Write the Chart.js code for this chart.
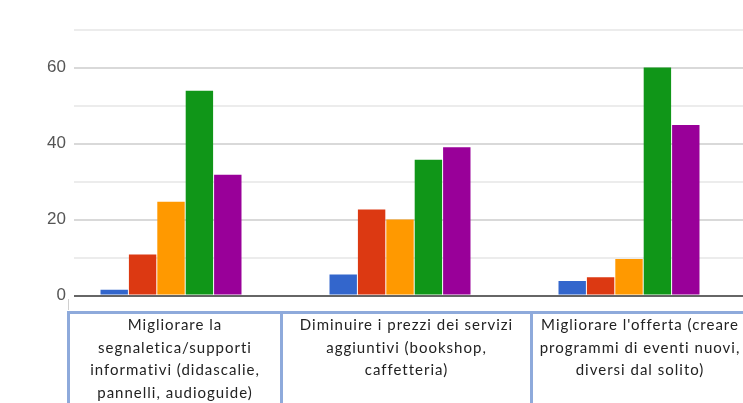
<!DOCTYPE html>
<html>
<head>
<meta charset="utf-8">
<script src="https://cdn.jsdelivr.net/npm/chart.js@4/dist/chart.umd.min.js"></script>
<style>
  html, body { margin: 0; padding: 0; background: #fff; }
  #wrap { position: relative; width: 743px; height: 403px; overflow: hidden; background: #fff; }
  #c { position: absolute; left: 0; top: 0; }
  .rule { position: absolute; background: #8eaadb; }
  .cell {
    position: absolute; top: 313px; text-align: center;
    font-family: Lato, "Open Sans", sans-serif; font-size: 15px; line-height: 22.5px;
    letter-spacing: 1px; color: #222; white-space: nowrap;
  }
  .tick { position: absolute; background: #d0d0d0; }
</style>
</head>
<body>
<div id="wrap">
  <canvas id="c" width="743" height="403"></canvas>
</div>
<script>
// Category labels, one line per entry
const categories = [
  ["Migliorare la", "segnaletica/supporti", "informativi (didascalie,", "pannelli, audioguide)"],
  ["Diminuire i prezzi dei servizi", "aggiuntivi (bookshop,", "caffetteria)"],
  ["Migliorare l'offerta (creare", "programmi di eventi nuovi,", "diversi dal solito)"]
];

// Values per series, one entry per category
const blueValues   = [1.5, 5.5, 3.8];
const redValues    = [10.8, 22.6, 4.8];
const orangeValues = [24.7, 20.0, 9.6];
const greenValues  = [53.9, 35.7, 60.0];
const purpleValues = [31.8, 39.0, 44.9];

// Labelled y ticks
const yTickLabels = [0, 20, 40, 60];

const seriesColors = ['#3366cc', '#dc3912', '#ff9900', '#109618', '#990099'];
const seriesValues = [blueValues, redValues, orangeValues, greenValues, purpleValues];

const datasets = seriesValues.map((vals, s) => ({
  label: 'Serie ' + (s + 1),
  data: vals.map((v, i) => ({ x: i, y: v })),
  backgroundColor: seriesColors[s],
  borderWidth: 0,
  categoryPercentage: 0.62,
  barPercentage: 0.965
}));

new Chart(document.getElementById('c'), {
  type: 'bar',
  data: { datasets },
  options: {
    responsive: false,
    animation: false,
    layout: { padding: { top: 29.5, bottom: 107.5, left: 0, right: 0 } },
    plugins: { legend: { display: false }, tooltip: { enabled: false } },
    scales: {
      x: {
        type: 'linear',
        display: false,
        offset: false,
        min: -0.4236,
        max: 2.4978,
        afterBuildTicks: scale => {
          scale.ticks = categories.map((_, i) => ({ value: i }));
        }
      },
      y: {
        min: 0,
        max: 70,
        afterFit: scale => { scale.width = 74; },
        border: { display: false },
        grid: {
          drawTicks: false,
          lineWidth: 2,
          color: ctx => {
            const v = ctx.tick.value;
            if (v === 0) return '#666666';
            return v % 20 === 0 ? '#d9d9d9' : '#ececec';
          }
        },
        ticks: {
          stepSize: 10,
          padding: 8,
          color: '#555555',
          font: { family: '"Liberation Sans", Arial, sans-serif', size: 17 },
          callback: v => (yTickLabels.includes(v) ? String(v) : '')
        }
      }
    }
  }
});

// Label table under the axis
const wrap = document.getElementById('wrap');
const cellBounds = [[70, 280], [283, 530], [533, 747]];
function addDiv(cls, l, t, w, h) {
  const d = document.createElement('div');
  d.className = cls;
  Object.assign(d.style, { left: l + 'px', top: t + 'px', width: w + 'px', height: h + 'px' });
  wrap.appendChild(d);
  return d;
}
addDiv('tick', 68, 299, 1, 11);
addDiv('rule', 67, 311, 700, 3);
[67, 280, 530].forEach(x => addDiv('rule', x, 311, 3, 100));
categories.forEach((lines, i) => {
  const [l, r] = cellBounds[i];
  const d = document.createElement('div');
  d.className = 'cell';
  d.style.left = l + 'px';
  d.style.width = (r - l) + 'px';
  lines.forEach((line, k) => {
    if (k) d.appendChild(document.createElement('br'));
    d.appendChild(document.createTextNode(line));
  });
  wrap.appendChild(d);
});
</script>
</body>
</html>
